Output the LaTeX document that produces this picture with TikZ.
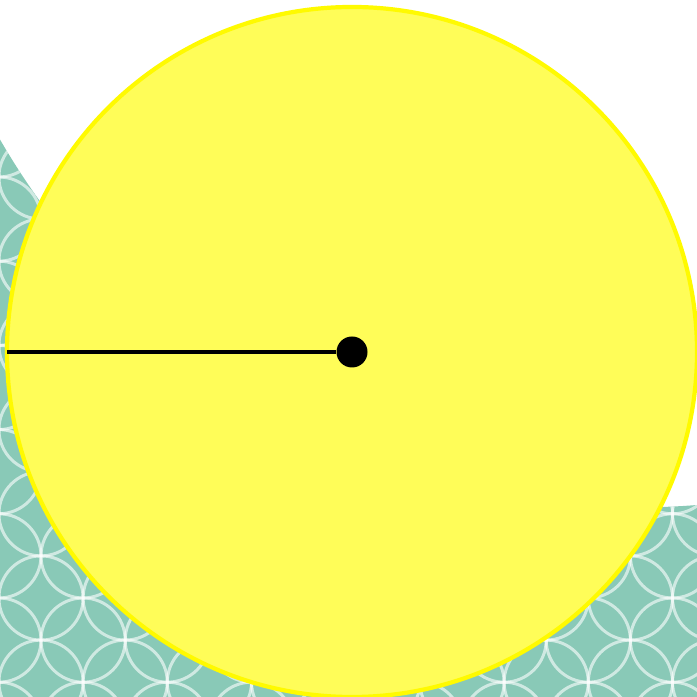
\documentclass[tikz,border=0pt]{standalone}
\usepackage{xcolor}
\usetikzlibrary{positioning}
\definecolor{sunfill}{RGB}{255,253,88}
\definecolor{sunrim}{RGB}{255,250,0}
\definecolor{sea}{RGB}{137,201,183}

\begin{document}
\begin{tikzpicture}[
  disc/.style={circle, draw=sunrim, fill=sunfill, line width=1.2pt, minimum size=6.9cm, inner sep=0pt},
  dot/.style={circle, fill=black, minimum size=0.31cm, inner sep=0pt},
  ring/.style={white, line width=0.85pt, opacity=0.6}
]
\useasboundingbox (0,0) rectangle (6.97,6.97);
\begin{scope}
  \clip (0,0) -- (6.97,0) -- (6.97,1.92) arc[start angle=-85.4, end angle=-150, radius=7.37] -- cycle;
  \fill[sea] (0,0) rectangle (6.97,6.97);
  \foreach \i in {-1,...,8}
    \foreach \j in {-2,...,7} {
      \draw[ring] ({0.41+0.842*\i},{0.99+0.842*\j}) circle (0.421);
      \draw[ring] ({0.831+0.842*\i},{1.411+0.842*\j}) circle (0.421);
    }
\end{scope}
\node[disc] (sun) at (3.52,3.45) {};
\node[dot] (mid) at (sun.center) {};
\draw[line width=1.1pt] ([xshift=0.02cm]sun.west) -- (mid);
\end{tikzpicture}
\end{document}
